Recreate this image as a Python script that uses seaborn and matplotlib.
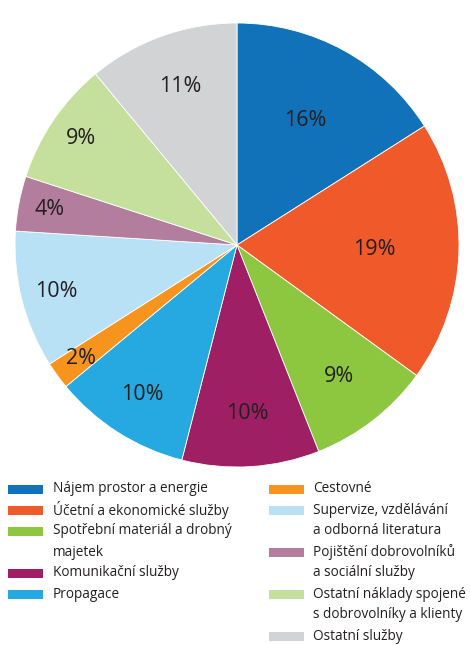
import matplotlib
matplotlib.use("Agg")
import matplotlib.pyplot as plt
import seaborn as sns
import numpy as np
from matplotlib.patches import Rectangle

# categories in clockwise order from 12 o'clock
categories = ["Nájem prostor a energie", "Účetní a ekonomické služby",
              "Spotřební materiál a drobný\nmajetek", "Komunikační služby",
              "Propagace", "Cestovné", "Supervize, vzdělávání\na odborná literatura",
              "Pojištění dobrovolníků\na sociální služby",
              "Ostatní náklady spojené\ns dobrovolníky a klienty", "Ostatní služby"]
shares = [16, 19, 9, 10, 10, 2, 10, 4, 9, 11]
colors = ["#1172BA", "#F05A2A", "#8DC63F", "#9E1F63", "#25A9E0",
          "#F7941E", "#B9E1F6", "#B37E9D", "#C5DF9C", "#D1D3D4"]
# radial position of each percentage label (fraction of radius)
label_dist = [0.64, 0.62, 0.75, 0.76, 0.80, 0.87, 0.84, 0.86, 0.85, 0.76]

sns.set_style("white")
plt.rcParams["font.family"] = ["Open Sans", "DejaVu Sans"]
textcol = "#231F20"

W, H = 470, 645
fig = plt.figure(figsize=(W / 100, H / 100), dpi=100)
ax = fig.add_axes([15 / W, (H - 467) / H, 444 / W, 444 / H])
wedges, _, autotexts = ax.pie(
    shares, colors=colors, startangle=90, counterclock=False,
    autopct=lambda p: f"{p:.0f}%", pctdistance=0.63,
    wedgeprops=dict(linewidth=0.6, edgecolor="white"),
    textprops=dict(fontsize=15.5, color=textcol))
for w, t, d in zip(wedges, autotexts, label_dist):
    mid = np.deg2rad((w.theta1 + w.theta2) / 2)
    t.set_position((d * np.cos(mid), d * np.sin(mid)))
ax.set_xlim(-1, 1)
ax.set_ylim(-1, 1)
ax.set_aspect("equal")
ax.axis("off")

# legend: two columns, multi-line labels, swatch aligned with first line
row = 21
cols = [(8, 53, categories[:5], colors[:5]), (269, 313, categories[5:], colors[5:])]
for px, tx, labs, cols_ in cols:
    y = 489
    for lab, c in zip(labs, cols_):
        fig.patches.append(Rectangle((px / W, 1 - (y + 4.5) / H), 35 / W, 9 / H,
                                     transform=fig.transFigure, facecolor=c,
                                     edgecolor="none"))
        for line in lab.split("\n"):
            fig.text(tx / W, 1 - y / H, line, fontsize=9.8, color=textcol,
                     va="center", ha="left")
            y += row

fig.savefig("out.png", dpi=100)
